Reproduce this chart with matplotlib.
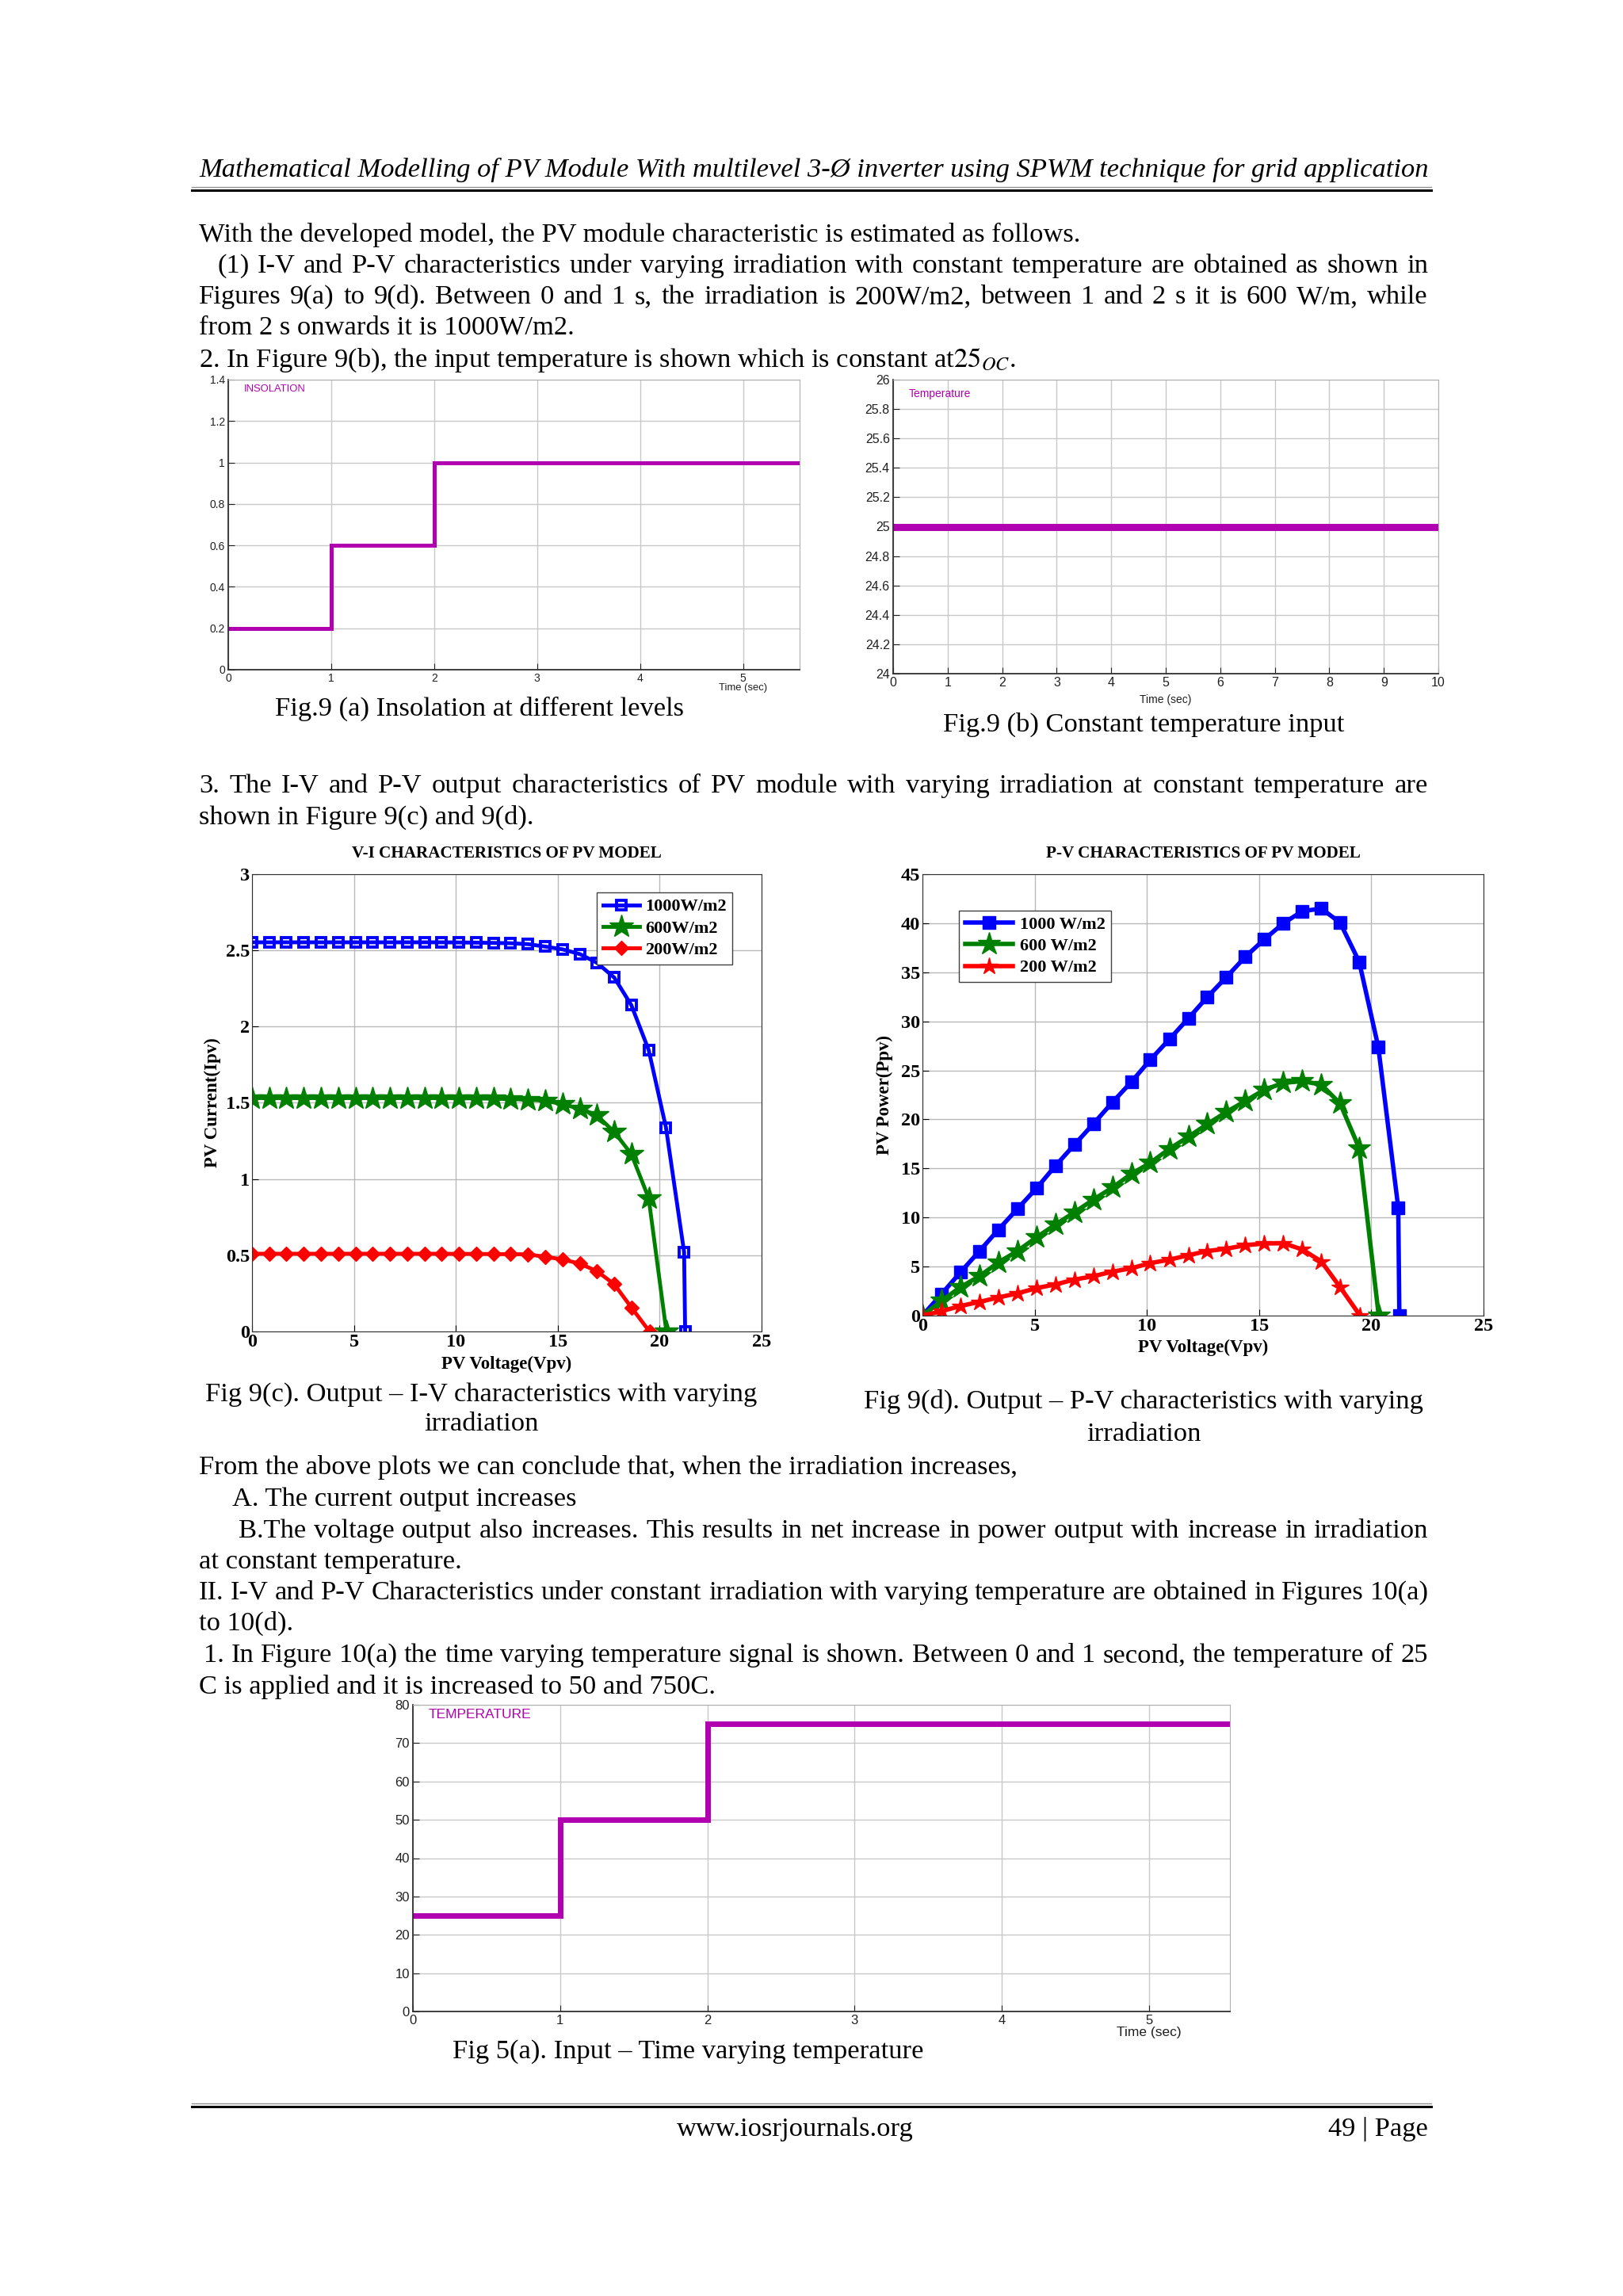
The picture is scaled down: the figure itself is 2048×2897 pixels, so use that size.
import matplotlib
matplotlib.use('Agg')
import matplotlib.pyplot as plt
from matplotlib.lines import Line2D

W, H = 2048, 2897
SERIF = 'Liberation Serif'
SANS = 'Liberation Sans'
NARROW = ['Liberation Sans Narrow', 'Liberation Sans']
MAG = '#b000b0'
BLUE, GREEN, RED = '#0000ff', '#008000', '#ff0000'

plt.rcParams['font.family'] = SERIF
plt.rcParams['mathtext.fontset'] = 'stix'

# ---- Fig 9(a): insolation steps (kW/m2) ----
insol_t = [0, 1, 2, 5.55]
insol_val = [0.2, 0.6, 1.0, 1.0]
insol_yticks = [0, 0.2, 0.4, 0.6, 0.8, 1, 1.2, 1.4]

# ---- Fig 9(b): constant temperature ----
tconst_t = [0, 10]
tconst_val = [25, 25]
tconst_yticks = [24, 24.2, 24.4, 24.6, 24.8, 25, 25.2, 25.4, 25.6, 25.8, 26]

# ---- Fig 5(a): time varying temperature ----
tvar_t = [0, 1, 2, 5.55]
tvar_val = [25, 50, 75, 75]
tvar_yticks = [0, 10, 20, 30, 40, 50, 60, 70, 80]

# ---- Fig 9(c)/(d): PV curves, voltage samples ----
v_1000 = [0, 0.85, 1.69, 2.54, 3.38, 4.23, 5.08, 5.92, 6.77, 7.62, 8.46, 9.31, 10.15,
          11.0, 11.85, 12.69, 13.54, 14.38, 15.23, 16.08, 16.92, 17.77, 18.61, 19.46,
          20.31, 21.2, 21.25]
v_600 = [0, 0.85, 1.69, 2.54, 3.38, 4.23, 5.08, 5.92, 6.77, 7.62, 8.46, 9.31, 10.15,
         11.0, 11.85, 12.69, 13.54, 14.38, 15.23, 16.08, 16.92, 17.77, 18.61, 19.46, 20.33]
v_200 = [0, 0.85, 1.69, 2.54, 3.38, 4.23, 5.08, 5.92, 6.77, 7.62, 8.46, 9.31, 10.15,
         11.0, 11.85, 12.69, 13.54, 14.38, 15.23, 16.08, 16.92, 17.77, 18.61, 19.5]

i_1000 = [2.553, 2.553, 2.553, 2.553, 2.553, 2.553, 2.553, 2.553, 2.553, 2.553, 2.553,
          2.553, 2.552, 2.551, 2.549, 2.547, 2.541, 2.525, 2.507, 2.476, 2.419, 2.322,
          2.141, 1.847, 1.338, 0.52, 0.0]
i_600 = [1.531, 1.531, 1.531, 1.531, 1.531, 1.531, 1.531, 1.531, 1.531, 1.531, 1.531,
         1.531, 1.530, 1.529, 1.527, 1.525, 1.52, 1.515, 1.49, 1.463, 1.418, 1.309,
         1.164, 0.875, 0.0]
i_200 = [0.51, 0.51, 0.51, 0.51, 0.51, 0.51, 0.51, 0.51, 0.51, 0.51, 0.51, 0.51,
         0.509, 0.509, 0.508, 0.507, 0.506, 0.49, 0.473, 0.445, 0.396, 0.31, 0.158, 0.0]

p_1000 = [0, 2.2, 4.41, 6.58, 8.75, 10.88, 12.98, 15.26, 17.42, 19.56, 21.73, 23.83,
          26.07, 28.17, 30.3, 32.47, 34.5, 36.56, 38.35, 39.99, 41.22, 41.5, 40.06,
          36.07, 27.4, 11.02, 0]
p_600 = [0, 1.5, 2.9, 4.02, 5.42, 6.58, 7.98, 9.27, 10.53, 11.83, 13.05, 14.45, 15.57,
         17.0, 18.23, 19.52, 20.75, 21.87, 23.02, 23.72, 23.9, 23.55, 21.62, 17.07, 0]
p_200 = [0, 0.45, 0.98, 1.4, 1.85, 2.27, 2.8, 3.18, 3.67, 4.02, 4.48, 4.83, 5.35, 5.7,
         6.16, 6.58, 6.82, 7.17, 7.35, 7.38, 6.75, 5.53, 2.9, 0]

iv_labels = ['1000W/m2', '600W/m2', '200W/m2']
pv_labels = ['1000 W/m2', '600 W/m2', '200 W/m2']

fig = plt.figure(figsize=(W / 100, H / 100), dpi=100)
fig.patch.set_facecolor('white')
renderer = fig.canvas.get_renderer()


def px(x, y):
    return x / W, 1 - y / H


def box(l, t, r, b):
    return fig.add_axes([l / W, 1 - b / H, (r - l) / W, (b - t) / H])


def put(x, y, s, size, ha='left', **kw):
    kw.setdefault('family', SERIF)
    return fig.text(*px(x, y), s, fontsize=size, ha=ha, va='baseline', **kw)


def fit_size(s, width, **kw):
    t = put(0, 0, s, 20, **kw)
    w = t.get_window_extent(renderer).width
    t.remove()
    return 20 * width / w


def justify(x0, x1, y, s, size, **kw):
    words = s.split(' ')
    ts = [put(x0, y, w, size, **kw) for w in words]
    ws = [t.get_window_extent(renderer).width for t in ts]
    gap = (x1 - x0 - sum(ws)) / (len(ws) - 1)
    x = x0
    for t, w in zip(ts, ws):
        t.set_position(px(x, y))
        x += w + gap


def hline(x0, x1, y, lw, color):
    fig.add_artist(Line2D([x0 / W, x1 / W], [1 - y / H, 1 - y / H], lw=lw,
                          color=color, transform=fig.transFigure))


# ---- header / body text ----
hsize = fit_size('Mathematical Modelling of PV Module With multilevel 3-Ø inverter using '
                 'SPWM technique for grid application', 1551, style='italic')
put(251, 223, 'Mathematical Modelling of PV Module With multilevel 3-Ø inverter using '
    'SPWM technique for grid application', hsize, style='italic')
hline(242, 1806, 236, 1.0, '#909090')
hline(242, 1806, 240, 2.2, 'black')

fs = fit_size('With the developed model, the PV module characteristic is estimated as follows.', 1110)

put(251, 305, 'With the developed model, the PV module characteristic is estimated as follows.', fs)
justify(274, 1802, 344, '(1) I-V and P-V characteristics under varying irradiation with constant '
        'temperature are obtained as shown in', fs)
justify(251, 1802, 383, 'Figures 9(a) to 9(d). Between 0 and 1 s, the irradiation is 200W/m2, '
        'between 1 and 2 s it is 600 W/m, while', fs)
put(251, 422, 'from 2 s onwards it is 1000W/m2.', fs)
put(251, 463, '2. In Figure 9(b), the input temperature is shown which is constant at$25_{OC}$.', fs)

justify(251, 1802, 1000, '3. The I-V and P-V output characteristics of PV module with varying '
        'irradiation at constant temperature are', fs)
put(251, 1040, 'shown in Figure 9(c) and 9(d).', fs)

put(251, 1860, 'From the above plots we can conclude that, when the irradiation increases,', fs)
put(293, 1900, 'A. The current output increases', fs)
justify(301, 1802, 1940, 'B.The voltage output also increases. This results in net increase in '
        'power output with increase in irradiation', fs)
put(251, 1979, 'at constant temperature.', fs)
justify(251, 1802, 2018, 'II. I-V and P-V Characteristics under constant irradiation with varying '
        'temperature are obtained in Figures 10(a)', fs)
put(251, 2057, 'to 10(d).', fs)
justify(257, 1802, 2097, '1. In Figure 10(a) the time varying temperature signal is shown. '
        'Between 0 and 1 second, the temperature of 25', fs)
put(251, 2137, 'C is applied and it is increased to 50 and 750C.', fs)

# captions
put(605, 903, 'Fig.9 (a) Insolation at different levels', fs, ha='center')
put(1443, 923, 'Fig.9 (b) Constant temperature input', fs, ha='center')
put(607, 1768, 'Fig 9(c). Output \u2013 I-V characteristics with varying', fs, ha='center')
put(607, 1805, 'irradiation', fs, ha='center')
put(1443, 1777, 'Fig 9(d). Output \u2013 P-V characteristics with varying', fs, ha='center')
put(1443, 1818, 'irradiation', fs, ha='center')
put(868, 2597, 'Fig 5(a). Input \u2013 Time varying temperature', fs, ha='center')

# footer
hline(242, 1806, 2654, 1.0, '#909090')
hline(242, 1806, 2658, 2.2, 'black')
put(1003, 2695, 'www.iosrjournals.org', fs, ha='center')
put(1802, 2695, '49 | Page', fs, ha='right')


# ---- scope style plots ----
def scope(ax, t, y, xlim, ylim, yticks, xticks, lw, label, lab_dy, time_x, time_dy,
          size, lab_size, fam):
    ax.plot(t, y, drawstyle='steps-post', color=MAG, lw=lw, solid_joinstyle='miter')
    ax.set_xlim(xlim)
    ax.set_ylim(ylim)
    ax.set_xticks(xticks)
    ax.set_yticks(yticks)
    ax.yaxis.set_major_formatter('{x:g}')
    ax.grid(True, color='#c8c8c8', lw=1)
    ax.tick_params(direction='in', length=6, labelsize=size, colors='#202020', pad=3)
    for lab in ax.get_xticklabels() + ax.get_yticklabels():
        lab.set_family(fam)
    for side in ('top', 'right'):
        ax.spines[side].set_color('#b0b0b0')
    for side in ('left', 'bottom'):
        ax.spines[side].set_color('#303030')
        ax.spines[side].set_linewidth(1.3)
    ax.annotate(label, xy=(0, 1), xycoords='axes fraction', xytext=(20, -lab_dy),
                textcoords='offset pixels', color=MAG, fontsize=lab_size,
                family=fam, ha='left', va='center')
    ax.annotate('Time (sec)', xy=(time_x, 0), xycoords=('data', 'axes fraction'),
                xytext=(0, -time_dy), textcoords='offset pixels', fontsize=lab_size,
                family=fam, ha='center', va='center', color='#202020')


ax_a = box(288, 479, 1009, 845)
scope(ax_a, insol_t, insol_val, (0, 5.55), (0, 1.4), insol_yticks, range(6),
      3.6, 'INSOLATION', 12, 5, 23, 10, 9.4, SANS)

ax_b = box(1127, 479, 1815, 850)
scope(ax_b, tconst_t, tconst_val, (0, 10), (24, 26), tconst_yticks, range(11),
      6.5, 'Temperature', 18, 5, 33, 11.5, 10, NARROW)

ax_t = box(521, 2151, 1552, 2538)
scope(ax_t, tvar_t, tvar_val, (0, 5.55), (0, 80), tvar_yticks, range(6),
      5, 'TEMPERATURE', 13, 5, 27, 12, 12.5, SANS)


# ---- PV characteristic plots ----
def pv_axes(ax, title, xlab, ylab, ylim, yticks, xlab_dy, ylab_dx):
    ax.set_xlim(0, 25)
    ax.set_ylim(ylim)
    ax.set_xticks(range(0, 26, 5))
    ax.set_yticks(yticks)
    ax.yaxis.set_major_formatter('{x:g}')
    ax.grid(True, color='#b8b8b8', lw=1)
    ax.set_axisbelow(True)
    ax.tick_params(direction='in', length=6, labelsize=17.5, pad=2)
    for lab in ax.get_xticklabels() + ax.get_yticklabels():
        lab.set_fontweight('bold')
    for sp in ax.spines.values():
        sp.set_color('#303030')
    ax.annotate(title, xy=(0.5, 1), xycoords='axes fraction', xytext=(0, 26),
                textcoords='offset pixels', ha='center', va='center',
                fontsize=15.2, fontweight='bold')
    ax.annotate(xlab, xy=(0.5, 0), xycoords='axes fraction', xytext=(0, -xlab_dy),
                textcoords='offset pixels', ha='center', va='center',
                fontsize=16.5, fontweight='bold')
    ax.annotate(ylab, xy=(0, 0.5), xycoords='axes fraction', xytext=(-ylab_dx, 0),
                textcoords='offset pixels', ha='center', va='center', rotation=90,
                fontsize=16.5, fontweight='bold')


ax_c = box(318, 1103, 961, 1680)
ax_c.plot(v_1000, i_1000, color=BLUE, lw=3.5, marker='s', ms=9, mfc='none', mew=2.8,
          label=iv_labels[0])
ax_c.plot(v_600, i_600, color=GREEN, lw=3.5, marker='*', ms=22, label=iv_labels[1])
ax_c.plot(v_200, i_200, color=RED, lw=3.5, marker='D', ms=9.5, label=iv_labels[2])
pv_axes(ax_c, 'V-I CHARACTERISTICS OF PV MODEL', 'PV Voltage(Vpv)', 'PV Current(Ipv)',
        (0, 3), [0, 0.5, 1, 1.5, 2, 2.5, 3], 41, 50)
ax_c.legend(loc='upper right', bbox_to_anchor=(0.943, 0.96), borderaxespad=0,
            fancybox=False, edgecolor='#404040', framealpha=1, handlelength=2.1,
            borderpad=0.35, labelspacing=0.3, handletextpad=0.3,
            prop={'family': SERIF, 'weight': 'bold', 'size': 16})

ax_d = box(1164, 1103, 1872, 1660)
ax_d.plot(v_1000, p_1000, color=BLUE, lw=4, marker='s', ms=12, label=pv_labels[0])
ax_d.plot(v_600, p_600, color=GREEN, lw=4, marker='*', ms=21, label=pv_labels[1])
ax_d.plot(v_200, p_200, color=RED, lw=4, marker='*', ms=16, label=pv_labels[2])
pv_axes(ax_d, 'P-V CHARACTERISTICS OF PV MODEL', 'PV Voltage(Vpv)', 'PV Power(Ppv)',
        (0, 45), list(range(0, 46, 5)), 40, 48)
ax_d.legend(loc='upper left', bbox_to_anchor=(0.065, 0.918), borderaxespad=0,
            fancybox=False, edgecolor='#404040', framealpha=1, handlelength=2.7,
            borderpad=0.35, labelspacing=0.3, handletextpad=0.4,
            prop={'family': SERIF, 'weight': 'bold', 'size': 16})

fig.savefig('out.png', dpi=100, facecolor='white')
